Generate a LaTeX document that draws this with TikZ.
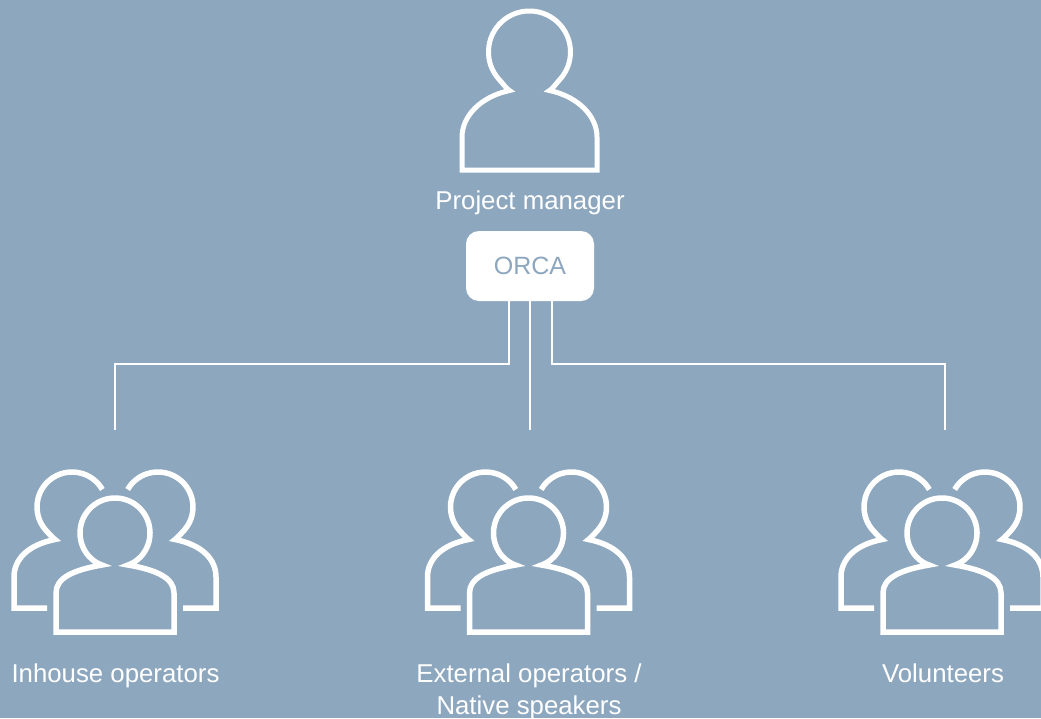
\documentclass[tikz,border=0pt]{standalone}
\usepackage{fontspec}
\setmainfont{Liberation Sans}
\definecolor{bgblue}{HTML}{8DA7BF}
\tikzset{
  x=1pt,y=-1pt,
  iconline/.style={draw=white,line width=#1,line join=miter,miter limit=6,line cap=butt},
  lbl/.style={text=white,font=\fontsize{25.8}{32}\selectfont,align=center,inner sep=0pt},
  wire/.style={draw=white,line width=2.5pt},
  pics/solo/.style={code={
    \draw[iconline=5pt] (-67.5,118) -- (-67.5,85)
      .. controls (-67.5,65) and (-50,45) .. (-20,38.5)
      .. controls (-23,37) and (-25,33.3) .. (-30.5,27.4)
      arc[start angle=138,end angle=402,radius=41]
      .. controls (25,33.3) and (23,37) .. (20,38.5)
      .. controls (50,45) and (67.5,65) .. (67.5,85)
      -- (67.5,118) -- cycle;
  }},
  pics/trio/.style={code={
    % left back
    \draw[iconline=5.5pt] (-68,75) -- (-101,75) -- (-101,44)
      .. controls (-101,27) and (-88,12) .. (-60,6.5)
      .. controls (-62,5) and (-64.3,2.6) .. (-69,-2.6)
      arc[start angle=138,end angle=330,radius=35];
    % right back
    \draw[iconline=5.5pt] (68,75) -- (101,75) -- (101,44)
      .. controls (101,27) and (88,12) .. (60,6.5)
      .. controls (62,5) and (64.3,2.6) .. (69,-2.6)
      arc[start angle=42,end angle=-150,radius=35];
    % front
    \draw[iconline=5.5pt] (-59,99) -- (-59,60)
      .. controls (-59,45) and (-42,37) .. (-13,32)
      .. controls (-16,31) and (-21.3,28.6) .. (-26,23.4)
      arc[start angle=138,end angle=402,radius=35]
      .. controls (21.3,28.6) and (16,31) .. (13,32)
      .. controls (42,37) and (59,45) .. (59,60)
      -- (59,99) -- cycle;
  }},
}
\begin{document}
\begin{tikzpicture}
\useasboundingbox[fill=bgblue] (0,0) rectangle (1041,718);
\pic at (529.5,52) {solo};
\node[lbl,anchor=base] (pm) at (530,209) {Project manager};
\node[fill=white,rounded corners=13pt,minimum width=128pt,minimum height=70pt,inner sep=0pt,text=bgblue,font=\fontsize{25}{30}\selectfont] (orca) at (530,266) {ORCA};
\coordinate (a) at (115,430);
\coordinate (b) at (530,430);
\coordinate (c) at (945,430);
\draw[wire] (orca.south -| 509,0) -- (509,364) -- (115,364) -- (a);
\draw[wire] (orca.south) -- (b);
\draw[wire] (orca.south -| 552,0) -- (552,364) -- (945,364) -- (c);
\pic at (115,533) {trio};
\pic at (528.5,533) {trio};
\pic at (942,533) {trio};
\node[lbl,anchor=base] (ino) at (115.5,682.5) {Inhouse operators};
\node[lbl] (exo) at (529,691.5) {External operators /\\Native speakers};
\node[lbl,anchor=base] (vol) at (943,682.5) {Volunteers};
\end{tikzpicture}
\end{document}
